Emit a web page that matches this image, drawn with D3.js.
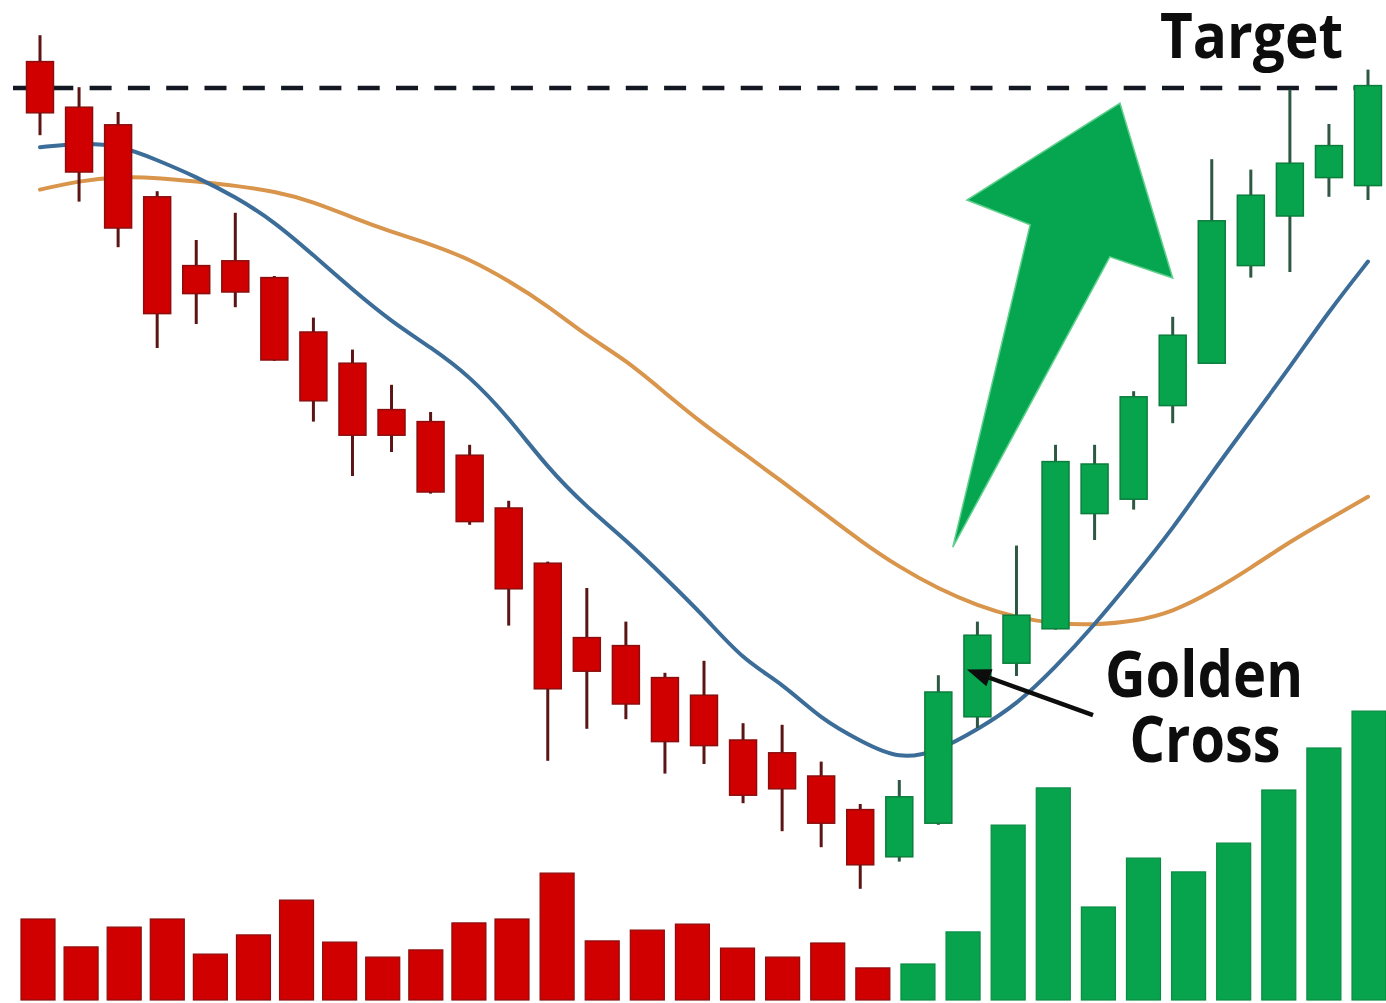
<!DOCTYPE html>
<html>
<head>
<meta charset="utf-8">
<script src="https://cdn.jsdelivr.net/npm/d3@7"></script>
<style>
  html, body { margin: 0; padding: 0; background: #ffffff; }
  svg { display: block; }
</style>
</head>
<body>
<svg id="chart" width="1386" height="1003"></svg>
<script>
// ---- Price sessions (one entry per candle) ----
const opens  = [128.3,122.6,120.4,111.4,102.8,103.4,101.3,94.5,90.6,84.8,83.3,79.1,72.5,65.6,56.3,55.3,51.3,49.1,43.5,41.9,39.0,34.8,
                28.9,33.1,46.4,53.1,57.4,71.8,73.6,85.3,90.6,102.8,109.0,113.8,112.8];
const highs  = [131.6,125.1,122.0,112.1,106.0,109.4,101.5,96.3,92.3,87.9,84.5,80.4,73.4,65.8,62.5,58.3,51.9,53.4,45.6,45.4,40.8,35.5,
                38.5,51.6,58.3,67.8,80.4,80.4,87.1,96.4,116.1,114.8,124.8,120.5,127.3];
const lows   = [119.1,110.8,105.1,92.5,95.5,97.6,90.9,83.3,76.5,79.5,74.3,70.4,57.8,40.9,44.9,46.1,39.3,40.5,35.6,32.1,30.1,24.9,
                28.3,32.9,45.0,51.5,57.3,68.5,72.3,83.1,90.5,101.3,102.0,111.4,111.0];
const closes = [121.9,114.5,107.5,96.8,99.3,99.5,91.0,85.9,81.6,81.6,74.5,70.8,62.4,49.9,52.1,48.0,43.3,42.8,36.6,37.4,33.1,27.9,
                36.4,49.5,56.6,59.1,78.3,78.0,86.4,94.1,108.4,111.6,115.6,117.8,125.3];

// ---- Moving averages (value at each candle) ----
const maFast = [117.6,118.1,117.9,116.0,113.9,111.4,108.3,104.1,99.8,95.8,92.6,89.0,83.8,77.5,72.6,68.5,63.8,59.0,53.5,50.6,46.1,43.4,
                41.0,42.1,44.8,47.9,52.6,57.9,63.8,69.9,76.9,83.5,90.1,97.1,103.3];
const maSlow = [112.3,113.4,113.9,113.8,113.3,112.8,112.1,110.8,108.8,107.0,105.5,103.6,100.9,97.8,94.0,91.0,86.9,82.9,79.4,75.8,72.1,68.4,
                65.1,62.4,60.3,58.8,58.0,57.9,58.3,59.5,62.0,65.0,68.3,71.1,73.9];

// ---- Volume ----
const volumes = [27,17.7,24.3,27,15.3,21.7,33.3,19.3,14.3,16.7,25.7,27,42.3,19.7,23.3,25.3,17.3,14.3,19,10.7,
                 12,22.7,58.3,70.7,31,47.3,42.7,52.3,70,84,96.3];
const volumeSide = ["down","down","down","down","down","down","down","down","down","down",
                    "down","down","down","down","down","down","down","down","down","down",
                    "up","up","up","up","up","up","up","up","up","up","up"];

// ---- Annotations ----
const targetPrice = 125;
const targetLabel = "Target";
const crossLabel = ["Golden", "Cross"];
// golden-cross pointer: [candle index, price] for tail and head
const crossPointer = [[26.96, 46.6], [23.73, 52.3]];
// trend arrow outline in [candle index, price]
const trendArrow = [[27.65,123.1],[29.0,101.25],[27.39,103.9],[23.37,67.6],[25.35,107.9],[23.73,111.0]];

const W = 1386, H = 1003;
const svg = d3.select("#chart");

const colors = {
  downFill: "#d10000", downStroke: "#8c0d0d", downWick: "#5c1515",
  upFill: "#08a34d", upStroke: "#0b7e3c", upWick: "#2e5844",
  fast: "#3b6d98", slow: "#d8954b", ink: "#121722", arrow: "#06a550"
};

// Scales
const n = closes.length;
const x = d3.scaleLinear().domain([0, n - 1]).range([40, 1368]);
const y = d3.scaleLinear().domain([25, 125]).range([888, 88]);
const bodyW = (x(1) - x(0)) * 0.69;

// volume sessions: the later sessions are spaced slightly wider
const xv = d3.scaleLinear().domain([0, 11, volumes.length - 1]).range([38, 512, 1369]);
const barW = 34;
const yv = d3.scaleLinear().domain([0, 100]).range([1000, 700]);

// Background
svg.append("rect").attr("width", W).attr("height", H).attr("fill", "#ffffff");

// Volume bars
svg.append("g").selectAll("rect").data(volumes).join("rect")
  .attr("x", (d, i) => xv(i) - barW / 2)
  .attr("y", d => yv(d))
  .attr("width", barW)
  .attr("height", d => yv(0) - yv(d))
  .attr("fill", (d, i) => volumeSide[i] === "up" ? colors.upFill : colors.downFill)
  .attr("stroke", (d, i) => volumeSide[i] === "up" ? "#0a8c44" : colors.downStroke)
  .attr("stroke-width", 1.2);

// Target line
svg.append("line")
  .attr("x1", 13).attr("x2", W)
  .attr("y1", y(targetPrice)).attr("y2", y(targetPrice))
  .attr("stroke", colors.ink).attr("stroke-width", 4.5)
  .attr("stroke-dasharray", "22 16.3");

svg.append("text")
  .attr("x", 1160).attr("y", y(targetPrice) - 30)
  .attr("font-family", "'Open Sans', 'Noto Sans', sans-serif")
  .attr("font-weight", 700).attr("font-size", 62)
  .attr("textLength", 183).attr("lengthAdjust", "spacingAndGlyphs")
  .attr("fill", "#0d0d0d")
  .text(targetLabel);

// Trend arrow
svg.append("path")
  .attr("d", d3.line().x(d => x(d[0])).y(d => y(d[1]))(trendArrow) + "Z")
  .attr("fill", colors.arrow)
  .attr("stroke", "#5fd08d").attr("stroke-width", 1.5).attr("stroke-linejoin", "miter");

// Moving averages
const maLine = d3.line().x((d, i) => x(i)).y(d => y(d)).curve(d3.curveBasis);
svg.append("path").attr("d", maLine(maSlow))
  .attr("fill", "none").attr("stroke", colors.slow).attr("stroke-width", 4)
  .attr("stroke-linecap", "round");
svg.append("path").attr("d", maLine(maFast))
  .attr("fill", "none").attr("stroke", colors.fast).attr("stroke-width", 4)
  .attr("stroke-linecap", "round");

// Candles
const candles = svg.append("g").selectAll("g").data(d3.range(n)).join("g");
candles.append("line")
  .attr("x1", i => x(i)).attr("x2", i => x(i))
  .attr("y1", i => y(highs[i])).attr("y2", i => y(lows[i]))
  .attr("stroke", i => closes[i] >= opens[i] ? colors.upWick : colors.downWick)
  .attr("stroke-width", 3);
candles.append("rect")
  .attr("x", i => x(i) - bodyW / 2)
  .attr("y", i => y(Math.max(opens[i], closes[i])))
  .attr("width", bodyW)
  .attr("height", i => Math.abs(y(opens[i]) - y(closes[i])))
  .attr("fill", i => closes[i] >= opens[i] ? colors.upFill : colors.downFill)
  .attr("stroke", i => closes[i] >= opens[i] ? colors.upStroke : colors.downStroke)
  .attr("stroke-width", 1.5);

// Golden cross pointer
const [tail, head] = crossPointer.map(d => [x(d[0]), y(d[1])]);
const ang = Math.atan2(head[1] - tail[1], head[0] - tail[0]);
const headLen = 24, headHalf = 9;
const base = [head[0] - headLen * Math.cos(ang), head[1] - headLen * Math.sin(ang)];
svg.append("line")
  .attr("x1", tail[0]).attr("y1", tail[1]).attr("x2", base[0]).attr("y2", base[1])
  .attr("stroke", "#0d0d0d").attr("stroke-width", 4.5);
svg.append("path")
  .attr("d", d3.line()([
    head,
    [base[0] + headHalf * Math.sin(ang), base[1] - headHalf * Math.cos(ang)],
    [base[0] - headHalf * Math.sin(ang), base[1] + headHalf * Math.cos(ang)]
  ]) + "Z")
  .attr("fill", "#0d0d0d");

const label = svg.append("g")
  .attr("font-family", "'Open Sans', 'Noto Sans', sans-serif")
  .attr("font-weight", 700).attr("font-size", 64).attr("fill", "#0d0d0d")
  .attr("text-anchor", "middle");
label.append("text").attr("x", 1204).attr("y", 697)
  .attr("textLength", 198).attr("lengthAdjust", "spacingAndGlyphs").text(crossLabel[0]);
label.append("text").attr("x", 1205).attr("y", 762)
  .attr("textLength", 151).attr("lengthAdjust", "spacingAndGlyphs").text(crossLabel[1]);
</script>
</body>
</html>
